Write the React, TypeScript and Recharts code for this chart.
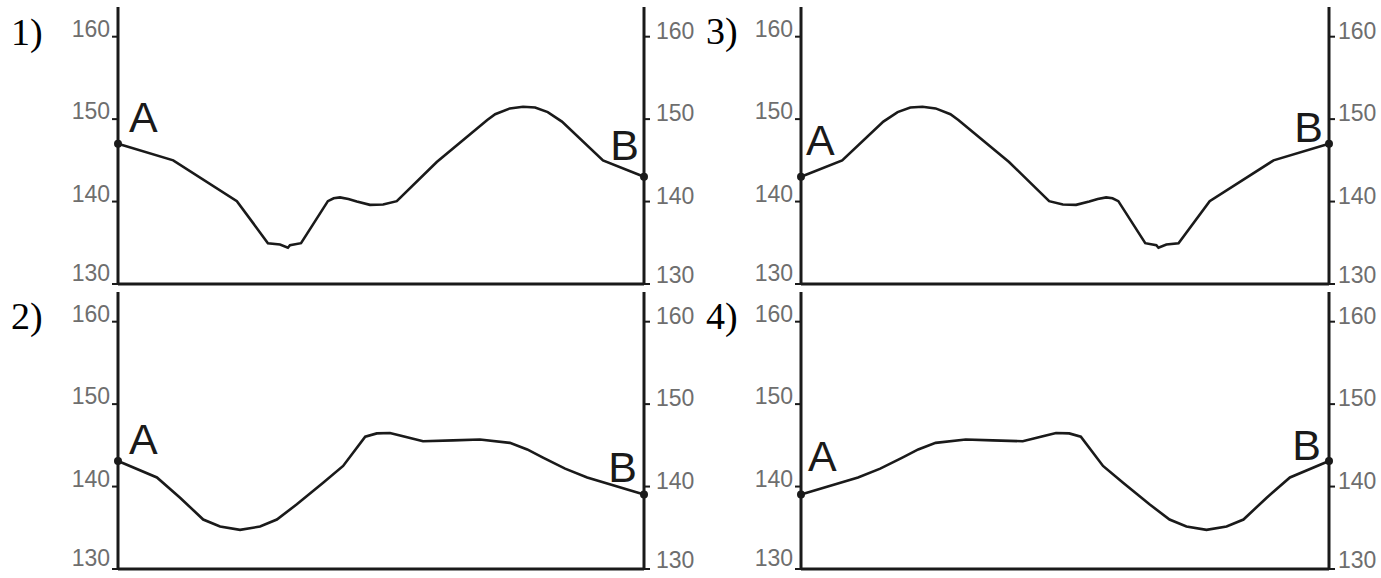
import { LineChart, Line, XAxis, YAxis } from "recharts";

// distance along the profile (0 = A, 100 = B) and elevation
const p1Dist = [0, 10.5, 22.6, 28.5, 30.8, 32.3, 32.7, 34.8, 39.9, 41.0, 42.2, 43.8, 45.4, 47.9, 50.4, 53.0, 60.6, 70.2, 71.7, 74.5, 77.0, 79.3, 81.7, 84.4, 92.2, 100];
const p1Elev = [147.0, 145.0, 140.05, 134.95, 134.8, 134.4, 134.7, 134.95, 140.05, 140.4, 140.5, 140.3, 140.0, 139.6, 139.65, 140.05, 144.8, 149.9, 150.6, 151.3, 151.5, 151.4, 150.85, 149.7, 145.0, 143.0];

const p2Dist = [0, 7.4, 11.8, 16.2, 19.4, 23.2, 27.0, 30.2, 34.0, 39.0, 42.8, 47.0, 49.2, 51.7, 54.2, 58.0, 63.7, 68.8, 74.5, 77.8, 80.8, 85.0, 89.2, 100];
const p2Elev = [143.1, 141.1, 138.65, 136.0, 135.15, 134.75, 135.15, 136.0, 137.85, 140.45, 142.5, 146.05, 146.45, 146.5, 146.1, 145.5, 145.6, 145.7, 145.3, 144.5, 143.5, 142.17, 141.1, 139.05];

const p3Dist = [0, 7.8, 15.6, 18.3, 20.7, 23.0, 25.5, 28.3, 29.8, 39.4, 47.0, 49.6, 52.1, 54.6, 56.2, 57.8, 59.0, 60.1, 65.2, 67.3, 67.7, 69.2, 71.5, 77.4, 89.5, 100];
const p3Elev = [143.0, 145.0, 149.7, 150.85, 151.4, 151.5, 151.3, 150.6, 149.9, 144.8, 140.05, 139.65, 139.6, 140.0, 140.3, 140.5, 140.4, 140.05, 134.95, 134.7, 134.4, 134.8, 134.95, 140.05, 145.0, 147.0];

const p4Dist = [0, 10.8, 15.0, 19.2, 22.2, 25.5, 31.2, 36.3, 42.0, 45.8, 48.3, 50.8, 53.0, 57.2, 61.0, 66.0, 69.8, 73.0, 76.8, 80.6, 83.8, 88.2, 92.6, 100];
const p4Elev = [139.05, 141.1, 142.17, 143.5, 144.5, 145.3, 145.7, 145.6, 145.5, 146.1, 146.5, 146.45, 146.05, 142.5, 140.45, 137.85, 136.0, 135.15, 134.75, 135.15, 136.0, 138.65, 141.1, 143.1];

const elevTicks = [130, 140, 150, 160];
const panelNames = ["1)", "2)", "3)", "4)"];

const INK = "#1a1a1a";
const GREY = "#6e6e6e";
const SANS = '"Liberation Sans", Arial, sans-serif';
const SERIF = '"Liberation Serif", "Times New Roman", serif';

type EndLabel = { text: string; dx: number; dy: number; anchor: "start" | "end" };

// bottom label sits a little above the base line
const lift = (v: number) => (v === 130 ? -3 : 0);

function LeftTick(props: any) {
  const { x, y, payload } = props;
  return (
    <text x={x} y={y + lift(payload.value)} textAnchor="end" fontFamily={SANS} fontSize={23} fill={GREY}>
      {payload.value}
    </text>
  );
}

function RightTick(props: any) {
  const { x, y, payload } = props;
  return (
    <text x={x} y={y + 2 + lift(payload.value)} textAnchor="start" fontFamily={SANS} fontSize={23} fill={GREY}>
      {payload.value}
    </text>
  );
}

interface PanelProps {
  left: number;
  top: number;
  width: number;
  rightWidth: number;
  rightGap: number;
  dist: number[];
  elev: number[];
  a: EndLabel;
  b: EndLabel;
}

function Panel({ left, top, width, rightWidth, rightGap, dist, elev, a, b }: PanelProps) {
  const data = dist.map((d, i) => ({ d, v: elev[i] }));
  const last = data.length - 1;

  const renderDot = (p: any) => {
    const { cx, cy, index } = p;
    if (index !== 0 && index !== last) return <g key={`dot-${index}`} />;
    const lab = index === 0 ? a : b;
    return (
      <g key={`dot-${index}`}>
        <circle cx={cx} cy={cy} r={4} fill={INK} />
        <text
          x={cx + lab.dx}
          y={cy + lab.dy}
          textAnchor={lab.anchor}
          fontFamily={SANS}
          fontSize={43}
          fill={INK}
        >
          {lab.text}
        </text>
      </g>
    );
  };

  return (
    <div style={{ position: "absolute", left, top }}>
      <LineChart width={width} height={290} data={data} margin={{ top: 7, right: 0, left: 0, bottom: 2 }}>
        <XAxis
          type="number"
          dataKey="d"
          domain={[0, 100]}
          tick={false}
          tickLine={false}
          height={4}
          axisLine={{ stroke: INK, strokeWidth: 3 }}
        />
        <YAxis
          yAxisId="l"
          orientation="left"
          width={118}
          domain={[130, 163.6]}
          ticks={elevTicks}
          interval={0}
          tick={<LeftTick />}
          tickSize={6}
          tickMargin={2}
          tickLine={{ stroke: INK, strokeWidth: 2 }}
          axisLine={{ stroke: INK, strokeWidth: 3 }}
        />
        <YAxis
          yAxisId="r"
          orientation="right"
          width={rightWidth}
          domain={[130, 163.6]}
          ticks={elevTicks}
          interval={0}
          tick={<RightTick />}
          tickSize={6}
          tickMargin={rightGap}
          tickLine={{ stroke: INK, strokeWidth: 2 }}
          axisLine={{ stroke: INK, strokeWidth: 3 }}
        />
        {/* same profile bound to the right axis, not drawn, so that axis gets its ticks */}
        <Line
          yAxisId="r"
          dataKey="v"
          type="linear"
          stroke="none"
          dot={false}
          activeDot={false}
          isAnimationActive={false}
        />
        <Line
          yAxisId="l"
          dataKey="v"
          type="linear"
          stroke={INK}
          strokeWidth={2.6}
          dot={renderDot}
          activeDot={false}
          isAnimationActive={false}
        />
      </LineChart>
    </div>
  );
}

export default function App() {
  return (
    <div style={{ position: "absolute", left: 0, top: 0, width: 1381, height: 578, background: "#fff", overflow: "hidden" }}>
      <Panel
        left={0} top={0} width={700} rightWidth={56} rightGap={6}
        dist={p1Dist} elev={p1Elev}
        a={{ text: "A", dx: 11, dy: -12, anchor: "start" }}
        b={{ text: "B", dx: -5, dy: -17, anchor: "end" }}
      />
      <Panel
        left={0} top={285} width={700} rightWidth={56} rightGap={6}
        dist={p2Dist} elev={p2Elev}
        a={{ text: "A", dx: 11, dy: -7, anchor: "start" }}
        b={{ text: "B", dx: -7, dy: -12, anchor: "end" }}
      />
      <Panel
        left={683} top={0} width={698} rightWidth={52} rightGap={3}
        dist={p3Dist} elev={p3Elev}
        a={{ text: "A", dx: 5, dy: -22, anchor: "start" }}
        b={{ text: "B", dx: -6, dy: -2, anchor: "end" }}
      />
      <Panel
        left={683} top={285} width={698} rightWidth={52} rightGap={3}
        dist={p4Dist} elev={p4Elev}
        a={{ text: "A", dx: 7, dy: -23, anchor: "start" }}
        b={{ text: "B", dx: -8, dy: -1, anchor: "end" }}
      />
      <svg width={1381} height={578} style={{ position: "absolute", left: 0, top: 0, pointerEvents: "none" }}>
        <text x={11} y={45} fontFamily={SERIF} fontSize={38} fill="#000">{panelNames[0]}</text>
        <text x={11} y={329} fontFamily={SERIF} fontSize={38} fill="#000">{panelNames[1]}</text>
        <text x={706} y={44} fontFamily={SERIF} fontSize={38} fill="#000">{panelNames[2]}</text>
        <text x={706} y={329} fontFamily={SERIF} fontSize={38} fill="#000">{panelNames[3]}</text>
      </svg>
    </div>
  );
}
